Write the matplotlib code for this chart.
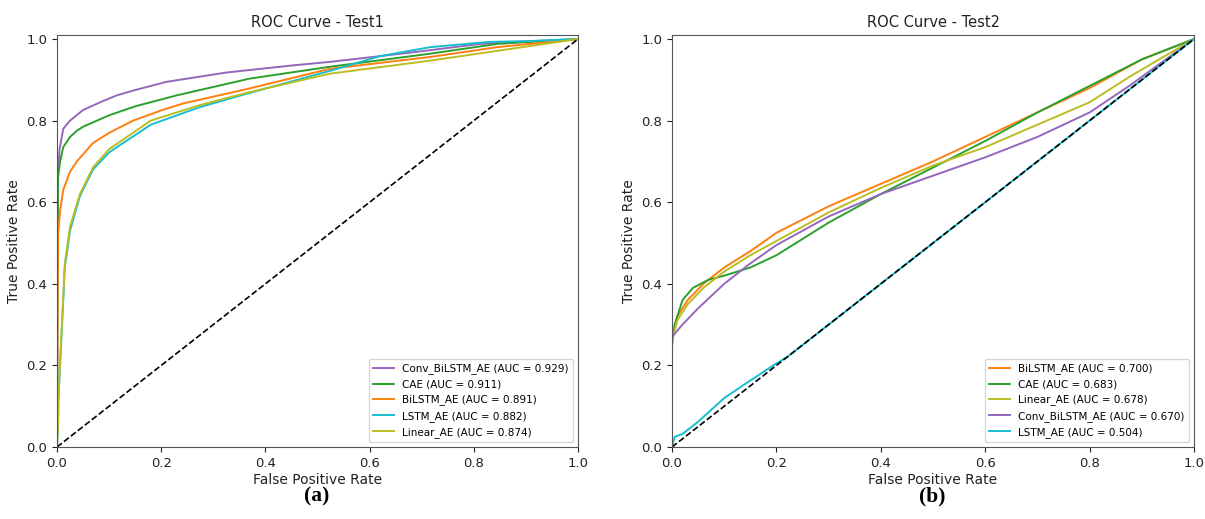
import matplotlib
matplotlib.use("Agg")

import matplotlib.pyplot as plt


# Test1 ROC curves (fpr, tpr)
t1_conv_fpr = [0, 0.001, 0.002, 0.005, 0.012, 0.025, 0.05, 0.083, 0.115, 0.15, 0.21, 0.326, 0.45, 0.524, 0.62, 0.7, 0.812, 0.9, 1]
t1_conv_tpr = [0, 0.5, 0.68, 0.73, 0.78, 0.80, 0.826, 0.845, 0.862, 0.875, 0.895, 0.918, 0.935, 0.944, 0.958, 0.97, 0.988, 0.994, 1]

t1_cae_fpr = [0, 0.001, 0.002, 0.006, 0.012, 0.025, 0.038, 0.05, 0.1, 0.15, 0.23, 0.37, 0.524, 0.716, 0.845, 1]
t1_cae_tpr = [0, 0.45, 0.66, 0.70, 0.735, 0.76, 0.775, 0.785, 0.813, 0.835, 0.862, 0.903, 0.932, 0.964, 0.988, 1]

t1_bilstm_fpr = [0, 0.001, 0.002, 0.006, 0.012, 0.025, 0.038, 0.069, 0.1, 0.146, 0.2, 0.242, 0.37, 0.524, 0.716, 0.845, 1]
t1_bilstm_tpr = [0, 0.3, 0.52, 0.58, 0.63, 0.675, 0.70, 0.745, 0.77, 0.80, 0.825, 0.842, 0.879, 0.927, 0.956, 0.98, 1]

t1_lstm_fpr = [0, 0.002, 0.0025, 0.009, 0.015, 0.025, 0.044, 0.069, 0.10, 0.115, 0.18, 0.274, 0.37, 0.524, 0.62, 0.716, 0.83, 0.908, 1]
t1_lstm_tpr = [0, 0.05, 0.11, 0.28, 0.44, 0.53, 0.615, 0.68, 0.722, 0.735, 0.79, 0.833, 0.868, 0.922, 0.958, 0.98, 0.993, 0.995, 1]

t1_linear_fpr = [0, 0.002, 0.003, 0.009, 0.015, 0.025, 0.044, 0.069, 0.10, 0.18, 0.274, 0.37, 0.524, 0.716, 0.845, 1]
t1_linear_tpr = [0, 0.06, 0.13, 0.29, 0.45, 0.54, 0.62, 0.685, 0.73, 0.80, 0.838, 0.87, 0.915, 0.947, 0.971, 1]

# Test2 ROC curves
t2_bilstm_fpr = [0, 0, 0.01, 0.03, 0.06, 0.1, 0.15, 0.2, 0.3, 0.4, 0.5, 0.6, 0.7, 0.8, 0.9, 1]
t2_bilstm_tpr = [0, 0.27, 0.32, 0.36, 0.40, 0.44, 0.48, 0.525, 0.59, 0.645, 0.70, 0.76, 0.82, 0.88, 0.95, 1]

t2_cae_fpr = [0, 0, 0.005, 0.02, 0.04, 0.07, 0.1, 0.15, 0.2, 0.3, 0.4, 0.5, 0.6, 0.7, 0.8, 0.9, 1]
t2_cae_tpr = [0, 0.25, 0.30, 0.36, 0.39, 0.41, 0.42, 0.44, 0.47, 0.55, 0.62, 0.685, 0.75, 0.82, 0.885, 0.95, 1]

t2_linear_fpr = [0, 0, 0.01, 0.03, 0.06, 0.1, 0.15, 0.2, 0.3, 0.4, 0.5, 0.6, 0.7, 0.8, 0.877, 1]
t2_linear_tpr = [0, 0.26, 0.31, 0.35, 0.39, 0.43, 0.47, 0.505, 0.575, 0.635, 0.69, 0.735, 0.79, 0.845, 0.908, 1]

t2_conv_fpr = [0, 0, 0.02, 0.05, 0.1, 0.15, 0.2, 0.3, 0.4, 0.5, 0.6, 0.7, 0.8, 0.877, 1]
t2_conv_tpr = [0, 0.27, 0.30, 0.34, 0.40, 0.45, 0.495, 0.565, 0.62, 0.665, 0.71, 0.76, 0.82, 0.886, 1]

t2_lstm_fpr = [0, 0.005, 0.02, 0.05, 0.1, 0.15, 0.2, 0.22, 0.4, 0.6, 0.8, 1]
t2_lstm_tpr = [0, 0.025, 0.032, 0.062, 0.12, 0.163, 0.205, 0.22, 0.4, 0.6, 0.8, 1]

test1 = [
    ("Conv_BiLSTM_AE", 0.929, t1_conv_fpr, t1_conv_tpr, "tab:purple"),
    ("CAE", 0.911, t1_cae_fpr, t1_cae_tpr, "tab:green"),
    ("BiLSTM_AE", 0.891, t1_bilstm_fpr, t1_bilstm_tpr, "tab:orange"),
    ("LSTM_AE", 0.882, t1_lstm_fpr, t1_lstm_tpr, "tab:cyan"),
    ("Linear_AE", 0.874, t1_linear_fpr, t1_linear_tpr, "tab:olive"),
]

test2 = [
    ("BiLSTM_AE", 0.700, t2_bilstm_fpr, t2_bilstm_tpr, "tab:orange"),
    ("CAE", 0.683, t2_cae_fpr, t2_cae_tpr, "tab:green"),
    ("Linear_AE", 0.678, t2_linear_fpr, t2_linear_tpr, "tab:olive"),
    ("Conv_BiLSTM_AE", 0.670, t2_conv_fpr, t2_conv_tpr, "tab:purple"),
    ("LSTM_AE", 0.504, t2_lstm_fpr, t2_lstm_tpr, "tab:cyan"),
]


def draw_roc(ax, curves, title):
    for name, auc, fpr, tpr, color in curves:
        ax.plot(fpr, tpr, color=color, linewidth=1.4,
                label=f"{name} (AUC = {auc:.3f})")
    ax.plot([0, 1], [0, 1], "k--", linewidth=1.2)
    ax.set_xlim(0, 1)
    ax.set_ylim(0, 1.01)
    ax.set_xlabel("False Positive Rate", fontsize=10, color="#222222", labelpad=2)
    ax.set_ylabel("True Positive Rate", fontsize=10, color="#222222")
    ax.set_title(title, fontsize=10.5, color="#222222")
    ax.tick_params(labelsize=9.5, colors="#222222")
    for spine in ax.spines.values():
        spine.set_color("#555555")
    ax.legend(loc="lower right", fontsize=7.5)


fig = plt.figure(figsize=(12.05, 5.19), dpi=100)
ax1 = fig.add_axes([0.0473, 0.1387, 0.4324, 0.794])
ax2 = fig.add_axes([0.5577, 0.1387, 0.4332, 0.794])

draw_roc(ax1, test1, "ROC Curve - Test1")
draw_roc(ax2, test2, "ROC Curve - Test2")

fig.text(0.263, 0.043, "(a)", ha="center", va="center", fontsize=15.5,
         fontweight="bold", family="Liberation Serif")
fig.text(0.774, 0.043, "(b)", ha="center", va="center", fontsize=15.5,
         fontweight="bold", family="Liberation Serif")

fig.savefig("out.png", dpi=100)
